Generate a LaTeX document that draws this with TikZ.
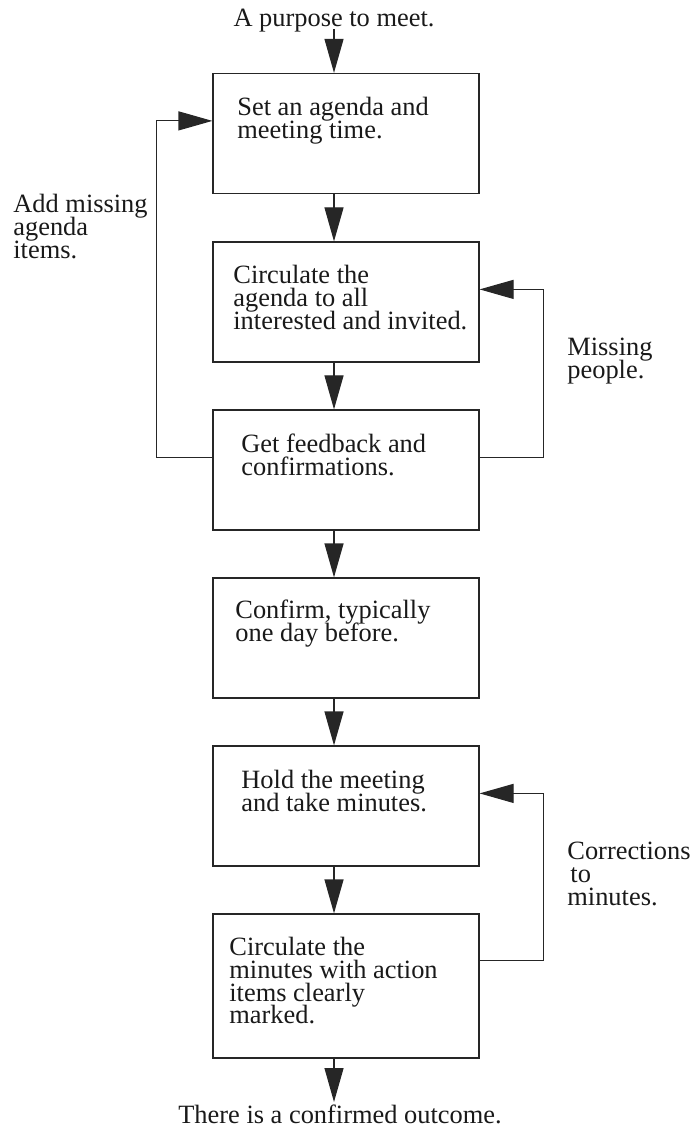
\documentclass[tikz,border=0pt]{standalone}
\usepackage{fontspec}
\setmainfont{Liberation Serif}
\usetikzlibrary{arrows.meta}
\colorlet{ink}{black!85}
\newcommand\stagefont{\fontsize{13.2}{11.35}\selectfont\lineskiplimit=-6pt\relax}
\tikzset{
  stage/.style={draw=ink, line width=0.6pt, minimum width=133pt, minimum height=60pt, inner sep=0pt},
  stagetext/.style={anchor=north west, align=left, inner sep=0pt},
  flow/.style={draw=ink, line width=0.6pt, -{Triangle[length=17pt,width=9.5pt]}},
}

\begin{document}
\begin{tikzpicture}[x=0.5pt, y=-0.5pt, font=\stagefont, text=black!90]
\useasboundingbox (0,0) rectangle (693,1127);
%steps
\node[stage] (s1) at (346,133.5) {};
\node[stage] (s2) at (346,302) {};
\node[stage] (s3) at (346,470) {};
\node[stage] (s4) at (346,638) {};
\node[stage] (s5) at (346,806) {};
\node[stage, minimum height=72pt] (s6) at (346,986) {};
%step texts
\node[stagetext] (t1) at (237,97) {Set an agenda and\\meeting time.};
\node[stagetext] (t2) at (233,265) {Circulate the\\agenda to all\\interested and invited.};
\node[stagetext] (t3) at (241,434) {Get feedback and\\confirmations.};
\node[stagetext] (t4) at (235,600) {Confirm, typically\\one day before.};
\node[stagetext] (t5) at (241,770) {Hold the meeting\\and take minutes.};
\node[stagetext] (t6) at (229,937) {Circulate the\\minutes with action\\items clearly\\marked.};
%start and end
\node[anchor=base, inner sep=0pt] (purpose) at (334,27) {A purpose to meet.};
\node[anchor=base, inner sep=1pt] (outcome) at (340,1123) {There is a confirmed outcome.};
%side notes
\node[stagetext] (addnote) at (13,194) {Add missing\\agenda\\items.};
\node[stagetext] (missnote) at (567,338) {Missing\\people.};
\node[stagetext] (corrnote) at (567,842) {Corrections\\\hspace*{1.5pt}to\\minutes.};
%arrows down
\draw[flow] ([yshift=2pt]purpose.south) -- (purpose.south |- s1.north);
\foreach \a/\b in {s1/s2,s2/s3,s3/s4,s4/s5,s5/s6}
  \draw[flow] ([xshift=-6pt]\a.south) -- ([xshift=-6pt]\b.north);
\draw[flow] ([xshift=-6pt]s6.south) -- ([xshift=-6pt]s6.south |- outcome.north);
%loops back
\draw[flow] ([yshift=-24pt]s3.north west) -- ++(-28pt,0) |- ([yshift=-24pt]s1.north west);
\draw[flow] ([yshift=-24pt]s3.north east) -- ++(32pt,0) |- ([yshift=-24pt]s2.north east);
\draw[flow] ([yshift=-23.5pt]s6.north east) -- ++(32pt,0) |- ([yshift=-24pt]s5.north east);
\end{tikzpicture}
\end{document}
